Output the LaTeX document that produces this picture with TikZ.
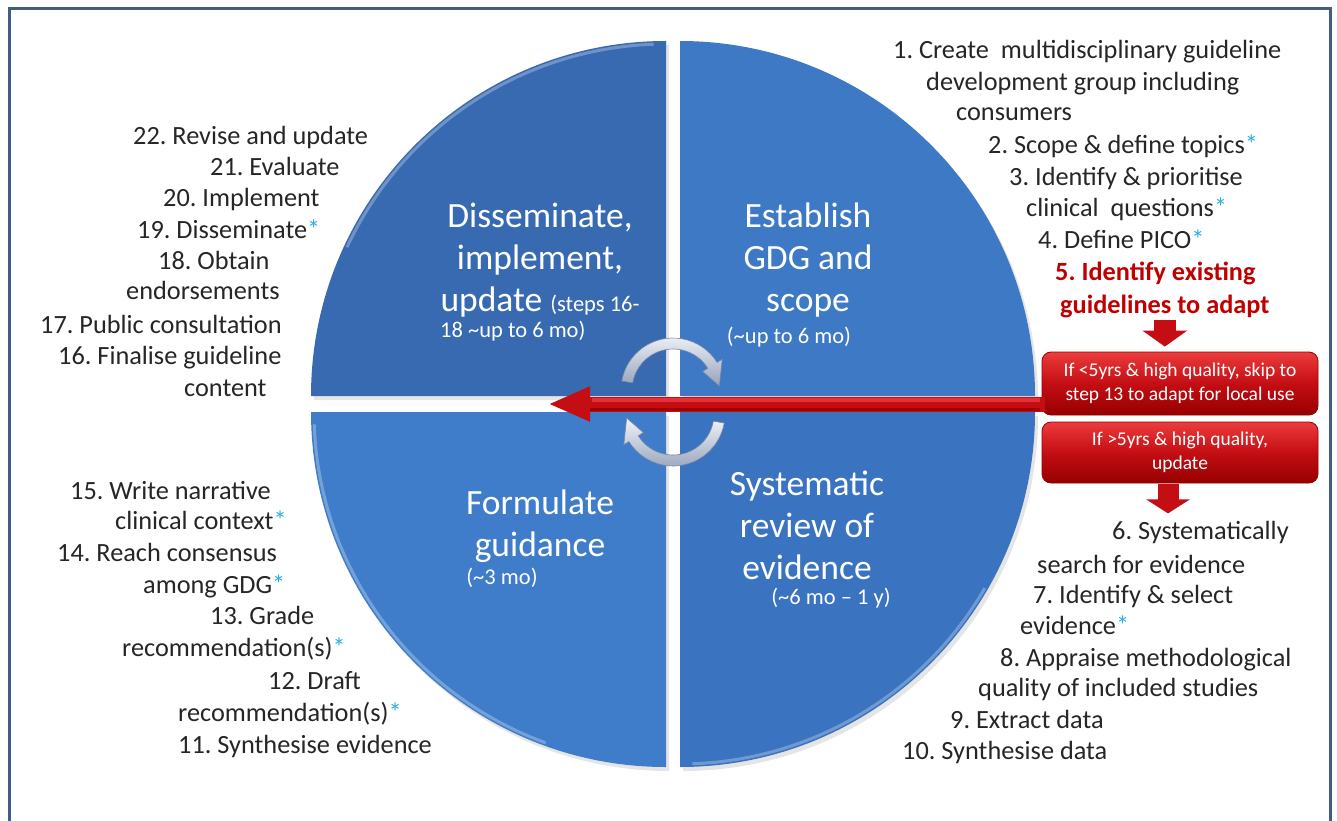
\documentclass[tikz,border=0pt]{standalone}
\usepackage{fontspec}
\setmainfont{Carlito}
\usetikzlibrary{arrows.meta,calc}
\frenchspacing
\definecolor{txt}{RGB}{38,38,38}
\definecolor{starc}{RGB}{40,175,225}
\definecolor{redt}{RGB}{192,0,0}
\definecolor{framec}{RGB}{66,92,132}
\definecolor{qA}{RGB}{56,106,178}
\definecolor{qB}{RGB}{62,121,197}
\definecolor{qC}{RGB}{63,125,202}
\definecolor{qD}{RGB}{58,115,191}
\definecolor{arrred}{RGB}{196,14,20}
\definecolor{arrdark}{RGB}{150,0,0}
\definecolor{arrlight}{RGB}{236,60,60}
\newcommand{\gstar}{\textcolor{starc}{*}}
\begin{document}
\begin{tikzpicture}[x=1pt,y=-1pt,
  lst/.style={font=\fontsize{26.3}{31}\selectfont, text=txt, inner sep=0pt, anchor=west, execute at begin node=\strut},
  lstred/.style={lst, text=redt, font=\fontsize{26.3}{31}\selectfont\bfseries},
  qtitle/.style={font=\fontsize{35.5}{42}\selectfont, text=white, align=center, inner sep=0pt},
  qsub/.style={font=\fontsize{22.5}{27}\selectfont, text=white, inner sep=0pt},
  rbox/.style={rounded corners=9pt, top color=arrlight, bottom color=arrdark, middle color=arrred, draw=arrdark, line width=0.8pt,
    minimum width=276pt, text=white, font=\fontsize{19.5}{24}\selectfont, align=center, inner sep=0pt},
  quadshadow/.style={fill=black, opacity=0.10},
  bevel/.style={line width=3pt, white, opacity=0.28},
  carrow/.style={top color={rgb,255:red,240;green,243;blue,248}, bottom color={rgb,255:red,150;green,163;blue,188}, draw={rgb,255:red,120;green,135;blue,162}, line width=0.6pt},
  blockdown/.style={line width=22pt, arrred, -{Triangle[length=16pt,width=44pt]}}
]
\useasboundingbox (0,0) rectangle (1337,820);
\fill[white] (0,0) rectangle (1337,820);
\draw[framec, line width=3pt] (9,8) rectangle (1330,840);

% shadows
\fill[quadshadow] (669,400) -- ++(-355,0) arc[start angle=180, end angle=270, radius=355] -- cycle;
\fill[quadshadow] (683,400) -- ++(0,-355) arc[start angle=270, end angle=360, radius=355] -- cycle;
\fill[quadshadow] (683,416) -- ++(355,0) arc[start angle=0, end angle=90, radius=355] -- cycle;
\fill[quadshadow] (669,416) -- ++(0,355) arc[start angle=90, end angle=180, radius=355] -- cycle;

% quadrants
\fill[qA] (666,396) -- ++(-355,0) arc[start angle=180, end angle=270, radius=355] -- cycle;
\fill[qB] (680,396) -- ++(0,-355) arc[start angle=270, end angle=360, radius=355] -- cycle;
\fill[qD] (680,412) -- ++(355,0) arc[start angle=0, end angle=90, radius=355] -- cycle;
\fill[qC] (666,412) -- ++(0,355) arc[start angle=90, end angle=180, radius=355] -- cycle;
% bevel highlights
\draw[bevel] ($(666,396)+(205:352)$) arc[start angle=205, end angle=268, radius=352];
\draw[bevel] ($(666,412)+(110:352)$) arc[start angle=110, end angle=178, radius=352];
\draw[bevel] ($(680,412)+(30:352)$) arc[start angle=30, end angle=88, radius=352];

% quadrant titles
\node[qtitle] (tTL) at (540,260) {Disseminate,\\implement,\\update {\fontsize{22.5}{27}\selectfont (steps 16-}};
\node[qsub, anchor=west] (sTL) at (440,331) {18 \textasciitilde up to 6 mo)};
\node[qtitle] (tTR) at (808,260) {Establish\\GDG and\\scope};
\node[qsub] (sTR) at (789,337) {(\textasciitilde up to 6 mo)};
\node[qtitle] (tBL) at (540,526) {Formulate\\guidance};
\node[qsub] (sBL) at (502,578) {(\textasciitilde 3 mo)};
\node[qtitle] (tBR) at (807,525) {Systematic\\review of\\evidence};
\node[qsub] (sBR) at (831,598) {(\textasciitilde 6 mo – 1 y)};

% circular arrows
\coordinate (ct) at (673,390);
\coordinate (cb) at (673,414);
\shade[carrow] ($(ct)+(190:52)$) arc[start angle=190, end angle=328, radius=52]
  -- ($(ct)+(328:58)$) -- ($(ct)+(355:46.5)$) -- ($(ct)+(328:35)$) -- ($(ct)+(328:41)$)
  arc[start angle=328, end angle=190, radius=41] -- cycle;
\shade[carrow] ($(cb)+(10:52)$) arc[start angle=10, end angle=148, radius=52]
  -- ($(cb)+(148:58)$) -- ($(cb)+(175:46.5)$) -- ($(cb)+(148:35)$) -- ($(cb)+(148:41)$)
  arc[start angle=148, end angle=10, radius=41] -- cycle;

% right top list
\node[lst] (r1) at (893,52) {1. Create\ \ multidisciplinary guideline};
\node[lst] (r2) at (926,84) {development group including};
\node[lst] (r3) at (956,114) {consumers};
\node[lst] (r4) at (988,147) {2. Scope \& define topics\gstar};
\node[lst] (r5) at (1009,179) {3. Identify \& prioritise};
\node[lst] (r6) at (1026,210) {clinical\ \ questions\gstar};
\node[lst] (r7) at (1038,242) {4. Define PICO\gstar};
\node[lstred] (r8) at (1055,274) {5. Identify existing};
\node[lstred] (r9) at (1060,307) {guidelines to adapt};

% red boxes
\node[rbox, minimum height=63pt] (box1) at (1180,383.5) {If <5yrs \& high quality, skip to\\step 13 to adapt for local use};
\node[rbox, minimum height=61pt] (box2) at (1180,452.5) {If >5yrs \& high quality,\\update};

% long red arrow
\coordinate (tip) at (548,404);
\draw[line width=15pt, arrred, -{Triangle[length=42pt,width=32pt]}, shorten <=-3pt] (box1.west |- tip) -- (tip);
\draw[line width=4pt, arrlight, opacity=0.8] ($(box1.west |- tip)+(-2,-4)$) -- ($(tip)+(44,-4)$);
\draw[line width=3pt, arrdark, opacity=0.8] ($(box1.west |- tip)+(-2,5.5)$) -- ($(tip)+(42,5.5)$);

% small down arrows
\draw[blockdown, shorten <=-3pt, shorten >=5pt] (r9.south) -- (r9.south |- box1.north);
\draw[blockdown, line width=21pt, -{Triangle[length=14pt,width=43pt]}] ($(box2.south)+(-12,1)$) -- ($(box2.south)+(-12,30)$);

% left top list
\node[lst] (l22) at (133,138) {22. Revise and update};
\node[lst] (l21) at (210,169) {21. Evaluate};
\node[lst] (l20) at (163,200) {20. Implement};
\node[lst] (l19) at (137,232) {19. Disseminate\gstar};
\node[lst] (l18) at (158,263) {18. Obtain};
\node[lst] (l18b) at (126,293) {endorsements};
\node[lst] (l17) at (40,327) {17. Public consultation};
\node[lst] (l16) at (58,358) {16. Finalise guideline};
\node[lst] (l16b) at (184,390) {content};

% bottom left list
\node[lst] (b15) at (70,493) {15. Write narrative};
\node[lst] (b15b) at (115,523) {clinical context\gstar};
\node[lst] (b14) at (57,555) {14. Reach consensus};
\node[lst] (b14b) at (143,587) {among GDG\gstar};
\node[lst] (b13) at (210,618) {13. Grade};
\node[lst] (b13b) at (122,650) {recommendation(s)\gstar};
\node[lst] (b12) at (268,683) {12. Draft};
\node[lst] (b12b) at (178,715) {recommendation(s)\gstar};
\node[lst] (b11) at (178,747) {11. Synthesise evidence};

% bottom right list
\node[lst] (s6) at (1112,533) {6. Systematically};
\node[lst] (s6b) at (1037,567) {search for evidence};
\node[lst] (s7) at (1033,597) {7. Identify \& select};
\node[lst] (s7b) at (1020,628) {evidence\gstar};
\node[lst] (s8) at (1000,660) {8. Appraise methodological};
\node[lst] (s8b) at (978,690) {quality of included studies};
\node[lst] (s9) at (950,722) {9. Extract data};
\node[lst] (s10) at (902,753) {10. Synthesise data};
\end{tikzpicture}
\end{document}
